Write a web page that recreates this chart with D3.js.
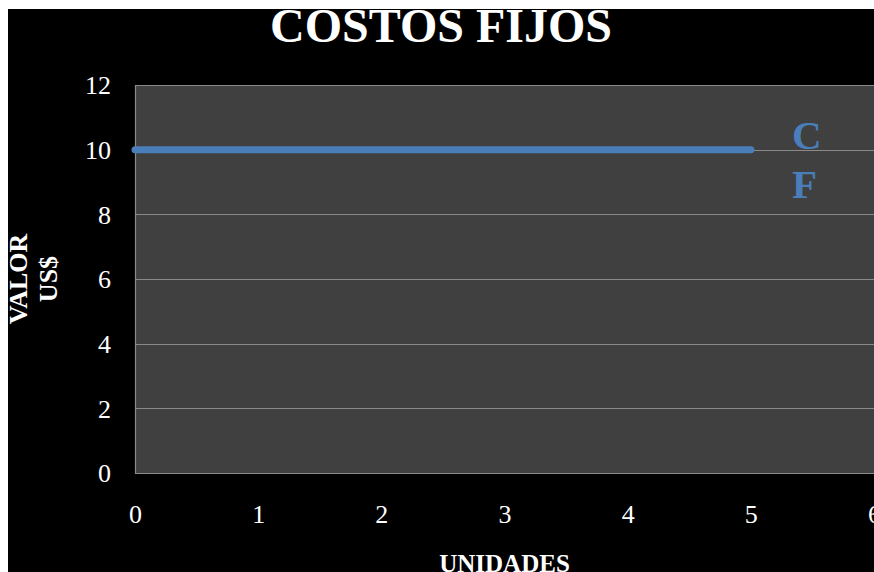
<!DOCTYPE html>
<html>
<head>
<meta charset="utf-8">
<script src="https://cdn.jsdelivr.net/npm/d3@7"></script>
<style>
  html, body { margin: 0; padding: 0; background: #ffffff; }
  svg { display: block; }
  text { font-family: "Liberation Serif", "Times New Roman", serif; }
</style>
</head>
<body>
<script>
// Fixed-cost series: constant cost of 10 across units 0..5
const seriesName = "CF";
const units = [0, 1, 2, 3, 4, 5];
const cost = [10, 10, 10, 10, 10, 10];
const xTicks = [0, 1, 2, 3, 4, 5, 6];
const yTicks = [0, 2, 4, 6, 8, 10, 12];
const title = "COSTOS FIJOS";
const xTitle = "UNIDADES";
const yTitle = ["VALOR", "US$"];

const W = 874, H = 572;
const plot = { left: 135, top: 85, right: 874, bottom: 473 };

const svg = d3.select("body").append("svg")
  .attr("width", W).attr("height", H);

svg.append("rect").attr("width", W).attr("height", H).attr("fill", "#ffffff");
svg.append("rect").attr("x", 8).attr("y", 9).attr("width", W - 8).attr("height", H - 9).attr("fill", "#000000");

const x = d3.scaleLinear().domain([0, 6]).range([plot.left, plot.right]);
const y = d3.scaleLinear().domain([0, 12]).range([plot.bottom, plot.top]);

// plot background
svg.append("rect")
  .attr("x", plot.left).attr("y", plot.top)
  .attr("width", plot.right - plot.left + 2).attr("height", plot.bottom - plot.top)
  .attr("fill", "#404040");

// horizontal gridlines
svg.append("g").selectAll("line").data(yTicks).join("line")
  .attr("x1", plot.left).attr("x2", plot.right + 2)
  .attr("y1", d => Math.round(y(d)) + 0.5).attr("y2", d => Math.round(y(d)) + 0.5)
  .attr("stroke", "#8a8a8a").attr("stroke-width", 1.2);

// left border
svg.append("line")
  .attr("x1", plot.left + 0.5).attr("x2", plot.left + 0.5)
  .attr("y1", plot.top).attr("y2", plot.bottom + 1)
  .attr("stroke", "#8a8a8a").attr("stroke-width", 1.2);

// y tick labels
const yAxis = d3.axisLeft(y).tickValues(yTicks).tickFormat(d3.format("d")).tickSize(0).tickPadding(24);
const gy = svg.append("g").attr("transform", `translate(${plot.left},0)`).call(yAxis);
gy.select(".domain").remove();
gy.selectAll("text")
  .attr("fill", "#ffffff").attr("font-size", 26)
  .attr("font-family", "Liberation Serif, Times New Roman, serif")
  .attr("dy", "0.34em");

// x tick labels
const xAxis = d3.axisBottom(x).tickValues(xTicks).tickFormat(d3.format("d")).tickSize(0).tickPadding(34);
const gx = svg.append("g").attr("transform", `translate(0,${plot.bottom})`).call(xAxis);
gx.select(".domain").remove();
gx.selectAll("text")
  .attr("fill", "#ffffff").attr("font-size", 26)
  .attr("font-family", "Liberation Serif, Times New Roman, serif")
  .attr("dy", "0.6em");

// series line
const line = d3.line().x((d, i) => x(units[i])).y(d => y(d));
svg.append("path")
  .datum(cost)
  .attr("d", line)
  .attr("fill", "none")
  .attr("stroke", "#4a7ebb")
  .attr("stroke-width", 7)
  .attr("stroke-linecap", "round");

// series label, wrapped one letter per line
const lbl = svg.append("text")
  .attr("fill", "#4a7ebb").attr("font-weight", "bold").attr("font-size", 41);
seriesName.split("").forEach((ch, i) => {
  lbl.append("tspan").attr("x", 792).attr("y", 149 + i * 49).text(ch);
});

// chart title
svg.append("text")
  .attr("x", 441).attr("y", 42)
  .attr("text-anchor", "middle")
  .attr("fill", "#ffffff").attr("font-weight", "bold").attr("font-size", 48)
  .text(title);

// x axis title
svg.append("text")
  .attr("x", (plot.left + plot.right) / 2).attr("y", 572)
  .attr("text-anchor", "middle")
  .attr("fill", "#ffffff").attr("font-weight", "bold").attr("font-size", 25)
  .text(xTitle);

// y axis title (two lines, rotated)
const yt = svg.append("text")
  .attr("transform", `translate(0,${(plot.top + plot.bottom) / 2}) rotate(-90)`)
  .attr("text-anchor", "middle")
  .attr("fill", "#ffffff").attr("font-weight", "bold").attr("font-size", 26);
yTitle.forEach((t, i) => {
  yt.append("tspan").attr("x", 0).attr("y", 27 + i * 30).text(t);
});
</script>
</body>
</html>
